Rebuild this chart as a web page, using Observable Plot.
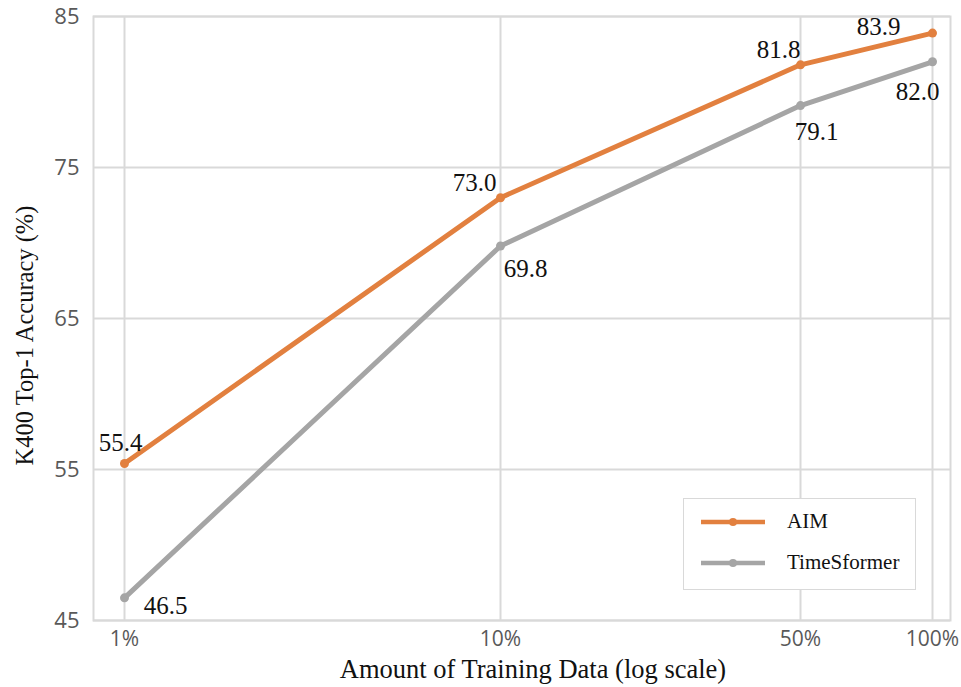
<!DOCTYPE html>
<html>
<head>
<meta charset="utf-8">
<script src="https://cdn.jsdelivr.net/npm/d3@7"></script>
<script src="https://cdn.jsdelivr.net/npm/@observablehq/plot@0.6"></script>
<style>
  html, body { margin: 0; padding: 0; background: #fff; }
  #wrap { position: relative; width: 961px; height: 687px; }
  #legend { position: absolute; left: 683px; top: 498px; width: 233px; height: 92px;
    border: 1px solid #d9d9d9; background: #fff; box-sizing: border-box;
    font-family: "Liberation Serif", "Times New Roman", serif; font-size: 21px; color: #111; }
  .row { position: absolute; left: 16px; display: flex; align-items: center; }
  .row svg { margin-right: 21px; }
</style>
</head>
<body>
<div id="wrap"></div>
<script>
const fractions = [1, 10, 50, 100];
const tickLabels = ["1%", "10%", "50%", "100%"];
const yTicks = [45, 55, 65, 75, 85];
const seriesNames = ["AIM", "TimeSformer"];
const aimValues = [55.4, 73.0, 81.8, 83.9];
const timesformerValues = [46.5, 69.8, 79.1, 82.0];
const colors = {AIM: "#E2803F", TimeSformer: "#A5A5A5"};

const aim = fractions.map((f, i) => ({f, v: aimValues[i], s: "AIM"}));
const ts = fractions.map((f, i) => ({f, v: timesformerValues[i], s: "TimeSformer"}));

// label offsets (styling, pixels)
const aimOffsets = [[-4, -20], [-26, -15], [-22, -15], [-54, -6]];
const tsOffsets = [[41, 8], [25, 23], [16, 26], [-15, 30]];

const serif = "'Liberation Serif', 'Times New Roman', serif";

const labelMarks = [];
[[aim, aimOffsets], [ts, tsOffsets]].forEach(([data, offs]) => {
  data.forEach((d, i) => {
    labelMarks.push(Plot.text([d], {x: "f", y: "v", text: (d) => d.v.toFixed(1),
      dx: offs[i][0], dy: offs[i][1], fontSize: 25, fontFamily: serif, fill: "#111"}));
  });
});

const chart = Plot.plot({
  width: 961,
  height: 687,
  marginLeft: 93,
  marginRight: 11,
  marginTop: 16,
  marginBottom: 67,
  style: {fontFamily: "'Open Sans', sans-serif", background: "#fff"},
  x: {type: "linear", domain: fractions, range: [124, 500, 800, 932]},
  y: {domain: [45, 85]},
  marks: [
    Plot.gridY(yTicks, {stroke: "#d9d9d9", strokeOpacity: 1, strokeWidth: 2}),
    Plot.gridX(fractions, {stroke: "#d9d9d9", strokeOpacity: 1, strokeWidth: 2}),
    Plot.frame({stroke: "#d9d9d9", strokeWidth: 2}),
    Plot.axisY(yTicks, {tickSize: 0, tickPadding: 14, fontSize: 22, fill: "#595959", label: null}),
    Plot.axisX(fractions, {tickSize: 0, tickPadding: 11, fontSize: 21, fill: "#595959", label: null,
      tickFormat: (d) => tickLabels[fractions.indexOf(d)]}),
    Plot.line(ts, {x: "f", y: "v", stroke: colors.TimeSformer, strokeWidth: 5}),
    Plot.dot(ts, {x: "f", y: "v", fill: colors.TimeSformer, r: 4.5}),
    Plot.line(aim, {x: "f", y: "v", stroke: colors.AIM, strokeWidth: 5}),
    Plot.dot(aim, {x: "f", y: "v", fill: colors.AIM, r: 4.5}),
    ...labelMarks,
    Plot.text(["Amount of Training Data (log scale)"], {frameAnchor: "bottom", dy: 57, dx: 11,
      fontSize: 26.5, fontFamily: serif, fill: "#111"}),
    Plot.text(["K400 Top-1 Accuracy (%)"], {frameAnchor: "left", textAnchor: "middle", dx: -68, dy: 17, rotate: -90,
      fontSize: 24.5, fontFamily: serif, fill: "#111"})
  ]
});

const wrap = document.getElementById("wrap");
wrap.appendChild(chart);

const legend = document.createElement("div");
legend.id = "legend";
seriesNames.forEach((name, i) => {
  const row = document.createElement("div");
  row.className = "row";
  row.style.top = (i === 0 ? 10 : 51) + "px";
  row.innerHTML = `<svg width="66" height="24"><line x1="1" x2="65" y1="12" y2="12" stroke="${colors[name]}" stroke-width="4.5"/><circle cx="33" cy="12" r="4" fill="${colors[name]}"/></svg><span>${name}</span>`;
  legend.appendChild(row);
});
wrap.appendChild(legend);
</script>
</body>
</html>
